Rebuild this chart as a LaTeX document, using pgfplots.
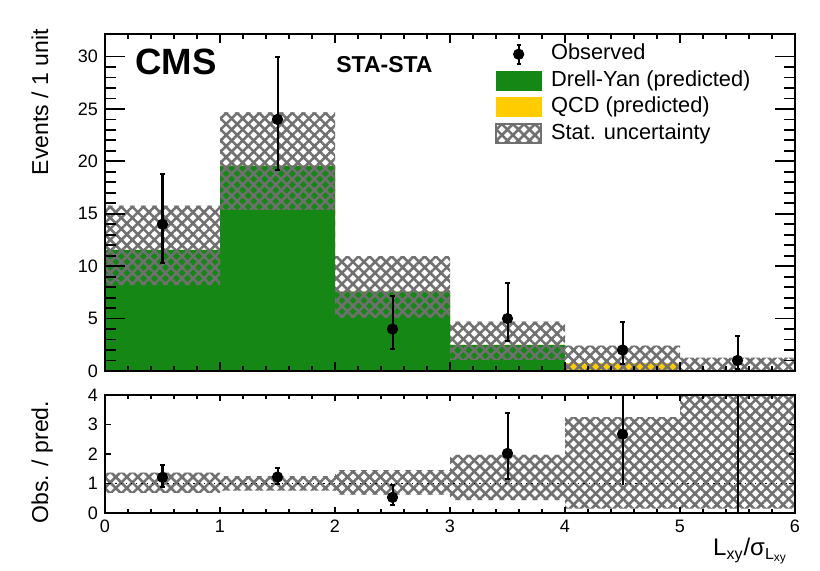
\documentclass[border=0pt]{standalone}
\usepackage{fontspec}
\setmainfont{Liberation Sans}
\usepackage{pgfplots}
\pgfplotsset{compat=1.18}
\usetikzlibrary{patterns.meta}
\definecolor{dygreen}{RGB}{20,135,20}
\definecolor{qcdyellow}{RGB}{255,204,0}
\definecolor{hatchgray}{RGB}{112,112,112}
\tikzset{
  hatchA/.style={pattern={Lines[angle=45,distance=3.9pt,line width=1.3pt]},pattern color=hatchgray},
  hatchB/.style={pattern={Lines[angle=-45,distance=3.9pt,line width=1.3pt]},pattern color=hatchgray},
}
\pgfplotsset{
  cmsaxis/.style={
    scale only axis, width=345pt,
    xmin=0, xmax=6,
    axis on top,
    tick align=inside, tick pos=both,
    axis line style={line width=1pt},
    every tick/.style={black, line width=0.9pt},
    xtick={0,1,...,6}, minor x tick num=4,
    /pgf/number format/assume math mode=true,
    tick label style={font=\fontsize{9}{10}\selectfont},
  },
}
\begin{document}
\begin{tikzpicture}
% ---------------- top panel ----------------
\begin{axis}[cmsaxis,
  at={(52.5pt,98pt)}, anchor=south west,
  height=168.5pt,
  ymin=0, ymax=32.15,
  ytick={0,5,...,30}, minor y tick num=4,
  xticklabels={},
  major tick length=10pt, minor tick length=5.5pt,
  xtick style={/pgfplots/major tick length=4.5pt,/pgfplots/minor tick length=2.5pt},
  ylabel={Events / 1 unit},
  every axis y label/.style={at={(rel axis cs:-0.0826,1.035)}, rotate=90, anchor=base east,
    font=\fontsize{11.5}{13}\selectfont},
  legend style={at={(rel axis cs:0.565,0.972)}, anchor=north west, draw=none, fill=none,
    font=\fontsize{10.9}{12}\selectfont, inner sep=0pt, row sep=2.9pt,
    nodes={inner sep=0pt, text height=8pt, text depth=2.35pt},
    /tikz/every odd column/.append style={column sep=4.5pt}},
  legend cell align=left,
]
% legend
\addlegendimage{legend image code/.code={
  \draw[black,line width=1pt] (11.25pt,-4.7pt)--(11.25pt,4.7pt);
  \draw[black,line width=1pt] (10.2pt,-4.7pt)--(12.3pt,-4.7pt) (10.2pt,4.7pt)--(12.3pt,4.7pt);
  \fill[black] (11.25pt,0pt) circle (2.6pt);}}
\addlegendentry{Observed}
\addlegendimage{legend image code/.code={\fill[dygreen] (0pt,-4.7pt) rectangle (22.5pt,4.7pt);}}
\addlegendentry{Drell-Yan (predicted)}
\addlegendimage{legend image code/.code={\fill[qcdyellow] (0pt,-4.7pt) rectangle (22.5pt,4.7pt);}}
\addlegendentry{QCD (predicted)}
\addlegendimage{legend image code/.code={
  \fill[white] (0pt,-4.7pt) rectangle (22.5pt,4.7pt);
  \fill[hatchA] (0pt,-4.7pt) rectangle (22.5pt,4.7pt);
  \fill[hatchB] (0pt,-4.7pt) rectangle (22.5pt,4.7pt);
  \draw[hatchgray,line width=0.9pt] (0pt,-4.7pt) rectangle (22.5pt,4.7pt);}}
\addlegendentry{Stat. uncertainty}
% total prediction (DY + QCD), yellow
\addplot[const plot, fill=qcdyellow, draw=none, forget plot]
  coordinates {(0,11.55)(1,19.6)(2,7.57)(3,2.48)(4,0.75)(5,0)(6,0)} \closedcycle;
% Drell-Yan, green
\addplot[const plot, fill=dygreen, draw=none, forget plot]
  coordinates {(0,11.55)(1,19.6)(2,7.57)(3,2.48)(4,0)(5,0)(6,0)} \closedcycle;
% stat. uncertainty band (upper edges, then lower edges back)
\addplot[hatchA, draw=none, forget plot] coordinates {
  (0,15.77)(1,15.77)(1,24.68)(2,24.68)(2,10.97)(3,10.97)(3,4.71)(4,4.71)(4,2.42)(5,2.42)(5,1.27)(6,1.27)
  (6,0)(4,0)(4,1.05)(3,1.05)(3,5.1)(2,5.1)(2,15.36)(1,15.36)(1,8.2)(0,8.2)};
\addplot[hatchB, draw=none, forget plot] coordinates {
  (0,15.77)(1,15.77)(1,24.68)(2,24.68)(2,10.97)(3,10.97)(3,4.71)(4,4.71)(4,2.42)(5,2.42)(5,1.27)(6,1.27)
  (6,0)(4,0)(4,1.05)(3,1.05)(3,5.1)(2,5.1)(2,15.36)(1,15.36)(1,8.2)(0,8.2)};
% observed
\addplot[only marks, mark=*, mark size=2.6pt, black, forget plot,
  error bars/.cd, y dir=both, y explicit,
  error bar style={line width=1pt}, error mark options={line width=1pt, mark size=1.1pt, rotate=90}]
  table[x=x, y=y, y error plus=ep, y error minus=em] {
x   y   ep    em
0.5 14  4.83  3.70
1.5 24  5.97  4.86
2.5 4   3.16  1.91
3.5 5   3.38  2.16
4.5 2   2.64  1.29
5.5 1   2.30  0.83
};
\node[anchor=base west, font=\fontsize{18.3}{20}\selectfont\bfseries] at (rel axis cs:0.034,0.881) {CMS};
\node[anchor=base west, font=\fontsize{11.5}{13}\selectfont\bfseries] at (rel axis cs:0.325,0.886) {STA-STA};
\node[anchor=base east, font=\fontsize{10.3}{12}\selectfont] at (rel axis cs:1,1) [yshift=7pt] {36.3 fb\textsuperscript{−1} (13 TeV)};
\end{axis}
% ---------------- ratio panel ----------------
\begin{axis}[cmsaxis,
  at={(52.5pt,27pt)}, anchor=south west,
  height=59pt,
  ymin=0, ymax=4,
  ytick={0,1,2,3,4}, minor y tick num=0,
  major tick length=3pt, minor tick length=2pt,
  ylabel={Obs. / pred.},
  every axis y label/.style={at={(rel axis cs:-0.0826,1.01)}, rotate=90, anchor=base east,
    font=\fontsize{11.5}{13}\selectfont},
  xlabel={L\textsubscript{xy}/σ\textsubscript{L\textsubscript{xy}}},
  every axis x label/.style={at={(rel axis cs:1,0)}, anchor=base east, yshift=-21.5pt, font=\fontsize{12}{14}\selectfont},
]
\addplot[hatchA, draw=none] coordinates {
  (0,1.365)(1,1.365)(1,1.25)(2,1.25)(2,1.45)(3,1.45)(3,1.97)(4,1.97)(4,3.25)(5,3.25)(5,4.2)(6,4.2)
  (6,0.15)(4,0.15)(4,0.44)(3,0.44)(3,0.62)(2,0.62)(2,0.76)(1,0.76)(1,0.68)(0,0.68)};
\addplot[hatchB, draw=none] coordinates {
  (0,1.365)(1,1.365)(1,1.25)(2,1.25)(2,1.45)(3,1.45)(3,1.97)(4,1.97)(4,3.25)(5,3.25)(5,4.2)(6,4.2)
  (6,0.15)(4,0.15)(4,0.44)(3,0.44)(3,0.62)(2,0.62)(2,0.76)(1,0.76)(1,0.68)(0,0.68)};
\addplot[black, line width=0.6pt, dotted] coordinates {(0,1)(6,1)};
\addplot[only marks, mark=*, mark size=2.6pt, black,
  error bars/.cd, y dir=both, y explicit,
  error bar style={line width=1pt}, error mark options={line width=1pt, mark size=1.1pt, rotate=90}]
  table[x=x, y=y, y error plus=ep, y error minus=em] {
x   y     ep    em
0.5 1.21  0.42  0.32
1.5 1.22  0.31  0.25
2.5 0.53  0.42  0.25
3.5 2.02  1.36  0.87
};
\addplot[only marks, mark=*, mark size=2.6pt, black,
  error bars/.cd, y dir=both, y explicit, error mark=none,
  error bar style={line width=1pt}]
  table[x=x, y=y, y error plus=ep, y error minus=em] {
x   y     ep    em
4.5 2.67  1.33  1.72
};
\addplot[black, line width=1pt] coordinates {(5.5,0)(5.5,4)};
\end{axis}
\path (0,0) rectangle (410pt,283.5pt);
\end{tikzpicture}
\end{document}
